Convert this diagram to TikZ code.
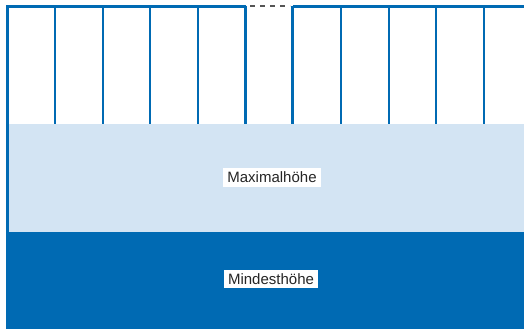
\documentclass[tikz,border=0pt]{standalone}
\usepackage{fontspec}
\setmainfont{Liberation Sans}
\definecolor{dblue}{RGB}{0,106,179}
\definecolor{lblue}{RGB}{211,228,243}
\definecolor{dgray}{RGB}{85,85,85}
\tikzset{
  wall/.style={draw=dblue, line width=2.8pt},
  post/.style={draw=dblue, line width=1.9pt},
  label/.style={fill=white, inner xsep=4pt, inner ysep=3.5pt, font=\fontsize{15}{17}\selectfont, text=black!85}
}
\begin{document}
\begin{tikzpicture}[x=1pt,y=-1pt]
\useasboundingbox (0,0) rectangle (524,329);
\fill[white] (0,0) rectangle (524,329);
% regions
\fill[lblue] (8,124) rectangle (524,232);
\fill[dblue] (7,232) rectangle (524,329);
% posts
\foreach \x in {55,103,150,198,341,389,436,484}
  \draw[post] (\x,6) -- (\x,124);
\draw[wall] (245.5,6) -- (245.5,124);
\draw[wall] (292.5,6) -- (292.5,124);
% top line and left border
\draw[wall] (245.5,6.3) -- (7.5,6.3) -- (7.5,329);
\draw[wall] (292.5,6.3) -- (524,6.3);
\draw[dgray, line width=1.6pt, dash pattern=on 5pt off 5pt] (250,6.3) -- (290,6.3);
% labels
\node[label] (max) at (272,177.5) {Maximalhöhe};
\node[label] (min) at (271,279) {Mindesthöhe};
\end{tikzpicture}
\end{document}
